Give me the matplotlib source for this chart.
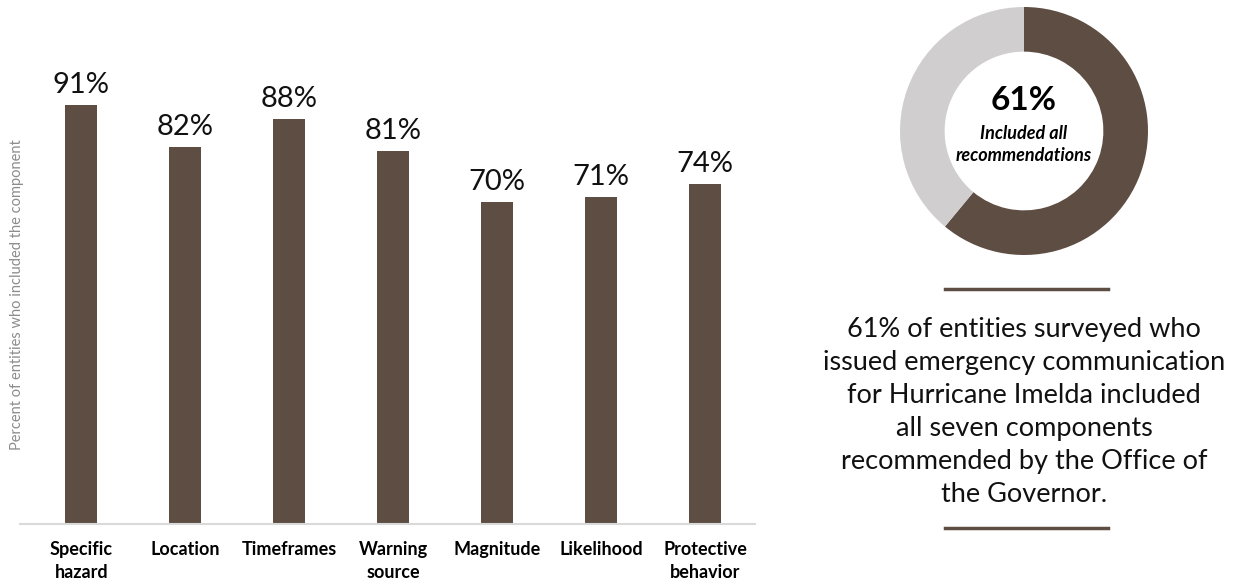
import matplotlib
matplotlib.use("Agg")
import matplotlib.pyplot as plt

# data
categories = ["Specific\nhazard", "Location", "Timeframes", "Warning\nsource",
              "Magnitude", "Likelihood", "Protective\nbehavior"]
values = [91, 82, 88, 81, 70, 71, 74]
all_recs = 61
summary = ("61% of entities surveyed who\nissued emergency communication\n"
           "for Hurricane Imelda included\nall seven components\n"
           "recommended by the Office of\nthe Governor.")

brown = "#5E4D42"
grey = "#D0CECF"
W, H = 1244, 588

plt.rcParams['font.family'] = ['Lato', 'DejaVu Sans']

fig = plt.figure(figsize=(W / 100, H / 100), dpi=100)


def px_axes(left, top, right, bottom):
    return fig.add_axes([left / W, 1 - bottom / H, (right - left) / W, (bottom - top) / H])


# bar chart
ax = px_axes(20, 64, 755, 524)
x = list(range(len(values)))
ax.bar(x, values, width=0.31, color=brown)
for xi, v in zip(x, values):
    ax.text(xi, v + 1.5, f"{v}%", ha="center", va="bottom", fontsize=21, color="#111111")
ax.set_xlim(-0.59, 6.48)
ax.set_ylim(0, 100)
ax.set_xticks(x)
ax.set_xticklabels(categories, fontsize=13, fontweight="bold", linespacing=1.45, va="top")
ax.tick_params(axis="x", length=0, pad=12)
ax.set_yticks([])
for s in ["top", "right", "left"]:
    ax.spines[s].set_visible(False)
ax.spines["bottom"].set_color("#D9D9D9")
ax.spines["bottom"].set_linewidth(1.5)
fig.text(17 / W, 1 - 295 / H, "Percent of entities who included the component",
         rotation=90, ha="center", va="center", fontsize=10.5, color="#8C8C8C")

# donut
dax = px_axes(900, 7, 1148, 255)
dax.pie([all_recs, 100 - all_recs], colors=[brown, grey], startangle=90,
        counterclock=False, wedgeprops=dict(width=0.36, edgecolor="none"))
dax.set_xlim(-1, 1)
dax.set_ylim(-1, 1)
dax.set_aspect("equal")
dax.text(0, 0.25, f"{all_recs}%", ha="center", va="center", fontsize=24, fontweight="bold")
dax.text(0, -0.11, "Included all\nrecommendations", ha="center", va="center",
         fontsize=13, fontweight="bold", style="italic", linespacing=1.35)

# summary text and rules
fig.add_artist(plt.Line2D([945 / W, 1108 / W], [1 - 289 / H] * 2, color=brown, lw=2.5))
fig.add_artist(plt.Line2D([945 / W, 1108 / W], [1 - 528 / H] * 2, color=brown, lw=2.5))
fig.text(1024 / W, 1 - 412 / H, summary, ha="center", va="center", fontsize=19.5,
         linespacing=1.4, color="#111111")

fig.savefig("out.png", dpi=100)
